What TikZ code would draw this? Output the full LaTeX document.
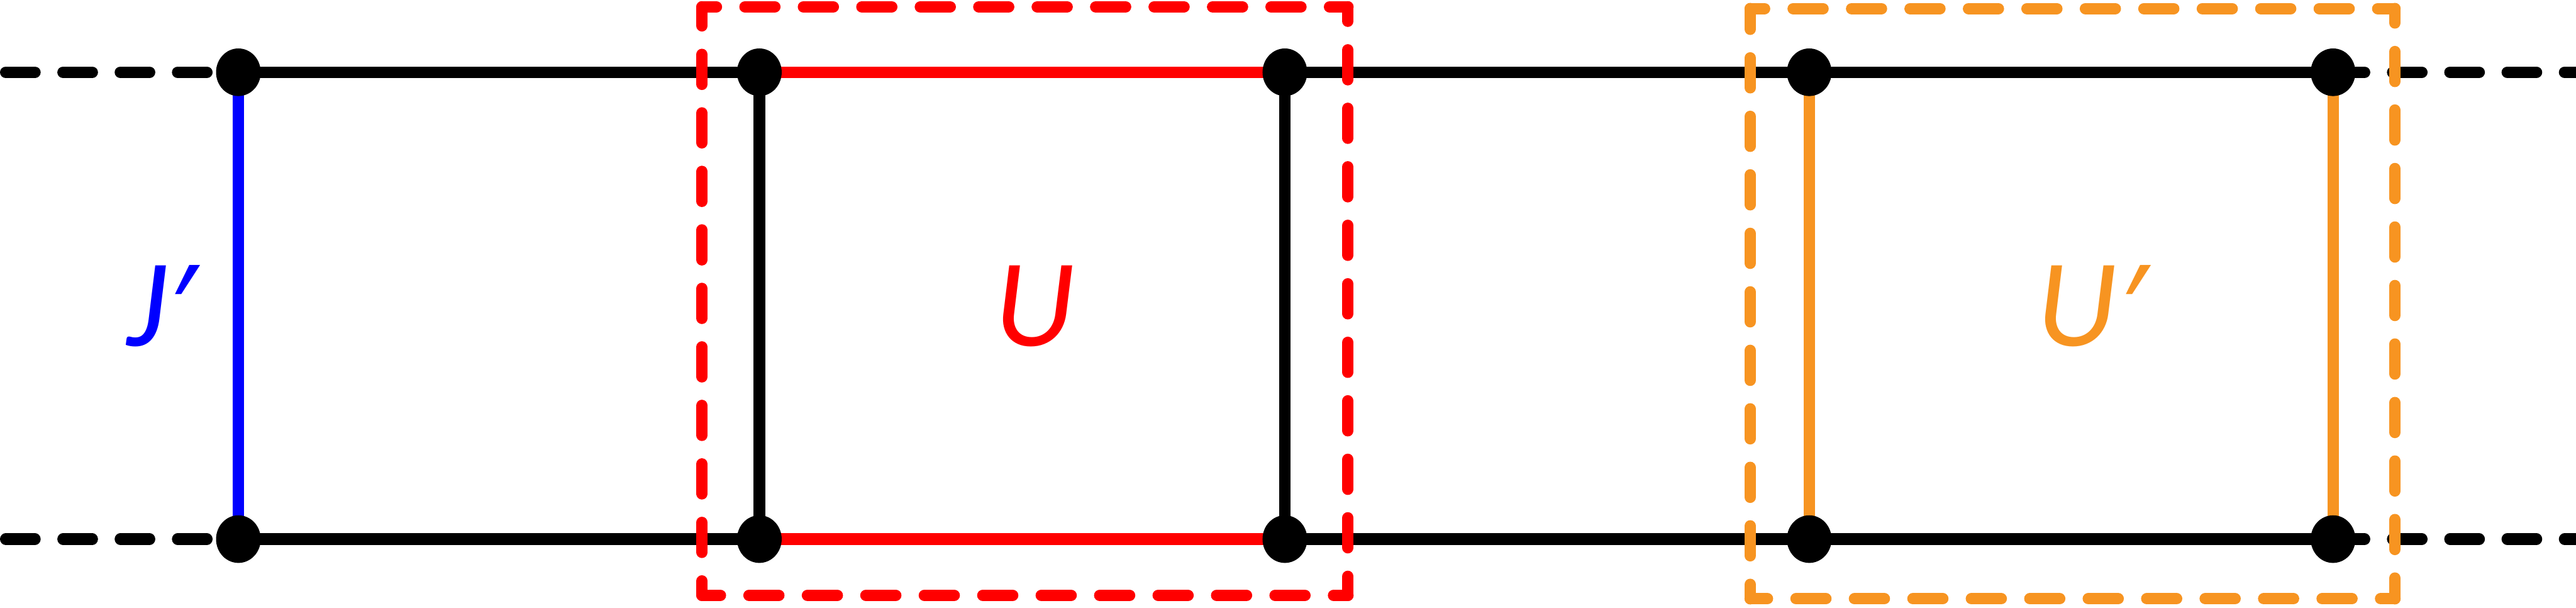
\documentclass[tikz,border=0pt]{standalone}
\usepackage{fontspec}
\usetikzlibrary{shapes.geometric}
\newfontfamily\labfont{Carlito}
\newfontfamily\primefont{Noto Sans}
\newcommand{\myprime}{\kern0.02cm{\primefont\itshape\fontsize{56}{56}\selectfont ′}}
\definecolor{myred}{RGB}{255,0,0}
\definecolor{myblue}{RGB}{0,0,255}
\definecolor{myorange}{RGB}{247,148,33}
\pgfdeclarelayer{background}
\pgfsetlayers{background,main}
\tikzset{
  vtx/.style={ellipse, fill=black, minimum width=0.78cm, minimum height=0.83cm, inner sep=0pt},
  hline/.style={line width=0.20cm},
  vline/.style={line width=0.20cm},
  extline/.style={line width=0.20cm, line cap=round, dash pattern=on 0.51cm off 0.49cm},
  boxside/.style={line width=0.20cm, line cap=round, dash pattern=on 0.52cm off 0.50cm, dash phase=0.27cm},
  lab/.style={font=\labfont\itshape\fontsize{62}{70}\selectfont, inner sep=0pt, anchor=base}
}
\begin{document}
\begin{tikzpicture}
\useasboundingbox (0,0) rectangle (44.95,10.6);
% vertices
\node[vtx] (a1) at (4.16,9.34) {};
\node[vtx] (a0) at (4.16,1.20) {};
\node[vtx] (b1) at (13.25,9.34) {};
\node[vtx] (b0) at (13.25,1.20) {};
\node[vtx] (c1) at (22.42,9.34) {};
\node[vtx] (c0) at (22.42,1.20) {};
\node[vtx] (d1) at (31.57,9.34) {};
\node[vtx] (d0) at (31.57,1.20) {};
\node[vtx] (e1) at (40.71,9.34) {};
\node[vtx] (e0) at (40.71,1.20) {};
\coordinate (lt) at (0,9.34);
\coordinate (lb) at (0,1.20);
\coordinate (rt) at (44.95,9.34);
\coordinate (rb) at (44.95,1.20);
\begin{pgfonlayer}{background}
  \draw[extline, dash phase=0.90cm] (lt) -- (a1.center);
  \draw[extline, dash phase=0.90cm] (lb) -- (a0.center);
  \draw[extline, dash phase=0.96cm] (e1.center) -- (rt);
  \draw[extline, dash phase=0.96cm] (e0.center) -- (rb);
  \draw[hline] (a1.center) -- (b1.center);
  \draw[hline] (a0.center) -- (b0.center);
  \draw[hline, myred] (b1.center) -- (c1.center);
  \draw[hline, myred] (b0.center) -- (c0.center);
  \draw[hline] (c1.center) -- (d1.center);
  \draw[hline] (c0.center) -- (d0.center);
  \draw[hline] (d1.center) -- (e1.center);
  \draw[hline] (d0.center) -- (e0.center);
  \draw[vline, myblue] (a1.center) -- (a0.center);
  \draw[vline] (b1.center) -- (b0.center);
  \draw[vline] (c1.center) -- (c0.center);
  \draw[vline, myorange] (d1.center) -- (d0.center);
  \draw[vline, myorange] (e1.center) -- (e0.center);
\end{pgfonlayer}
% red dashed box
\coordinate (rTL) at (12.25,10.48);
\coordinate (rTR) at (23.52,10.48);
\coordinate (rBR) at (23.52,0.22);
\coordinate (rBL) at (12.25,0.22);
\draw[boxside, myred] (rTL) -- (rTR);
\draw[boxside, myred] (rTR) -- (rBR);
\draw[boxside, myred] (rBR) -- (rBL);
\draw[boxside, myred] (rBL) -- (rTL);
% orange dashed box
\coordinate (oTL) at (30.54,10.45);
\coordinate (oTR) at (41.79,10.45);
\coordinate (oBR) at (41.79,0.16);
\coordinate (oBL) at (30.54,0.16);
\draw[boxside, myorange] (oTL) -- (oTR);
\draw[boxside, myorange] (oTR) -- (oBR);
\draw[boxside, myorange] (oBR) -- (oBL);
\draw[boxside, myorange] (oBL) -- (oTL);
% labels
\node[lab, text=myblue] (jlab) at (2.78,4.57) {J\myprime};
\node[lab, text=myred] (ulab) at (18.05,4.57) {U};
\node[lab, text=myorange] (uplab) at (36.47,4.57) {U\myprime};
\end{tikzpicture}
\end{document}
